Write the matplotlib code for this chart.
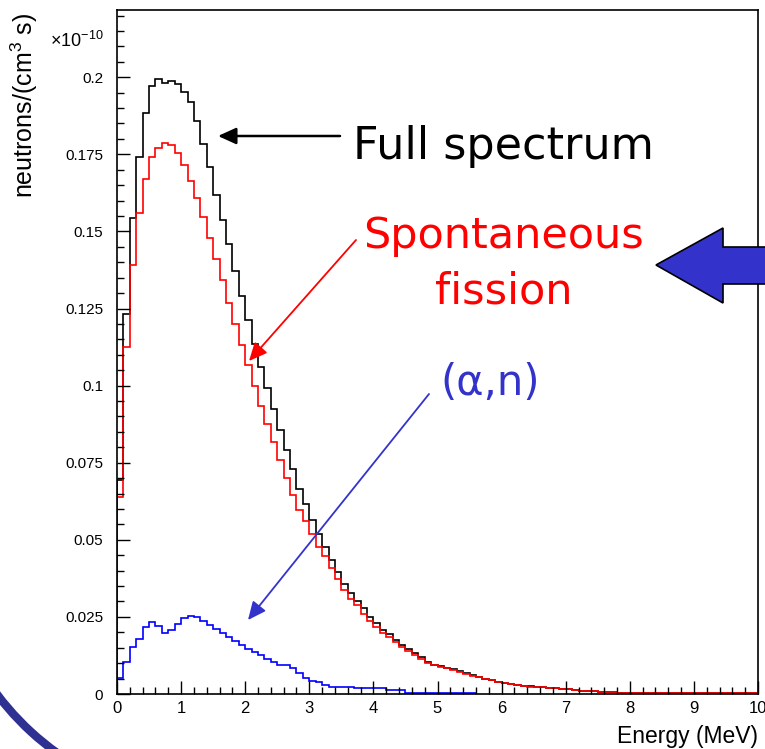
import numpy as np
import matplotlib
matplotlib.use("Agg")
import matplotlib.pyplot as plt
from matplotlib import patches

plt.rcParams['font.family'] = ['Liberation Sans', 'DejaVu Sans']
plt.rcParams['mathtext.fontset'] = 'custom'
plt.rcParams['mathtext.rm'] = 'Liberation Sans'
plt.rcParams['mathtext.default'] = 'regular'

# Widma neutronów (x 1e-10), 100 binów po 0.1 MeV
full = [0.0693, 0.1233, 0.1542, 0.1741, 0.1885, 0.1973, 0.1995, 0.1982, 0.1987, 0.1979,
        0.1953, 0.1919, 0.1858, 0.1783, 0.1708, 0.1619, 0.1536, 0.1458, 0.1373, 0.1292,
        0.1214, 0.1136, 0.1060, 0.0993, 0.0923, 0.0855, 0.0790, 0.0728, 0.0666, 0.0615,
        0.0564, 0.0518, 0.0478, 0.0434, 0.0396, 0.0357, 0.0327, 0.0303, 0.0280, 0.0251,
        0.0231, 0.0208, 0.0195, 0.0175, 0.0159, 0.0145, 0.0132, 0.0119, 0.0105, 0.0094,
        0.0092, 0.0085, 0.0080, 0.0074, 0.0068, 0.0061, 0.0056, 0.0050, 0.0045, 0.0040,
        0.0037, 0.0032, 0.0029, 0.0027, 0.0025, 0.0024, 0.0023, 0.0021, 0.0020, 0.0017,
        0.0015, 0.0013, 0.0011, 0.0010, 0.0009, 0.0008, 0.0007, 0.0006, 0.0004, 0.0003,
        0.0003, 0.0003, 0.0003, 0.0003, 0.0003, 0.0002, 0.0002, 0.0002, 0.0002, 0.0002,
        0.0002, 0.0002, 0.0002, 0.0002, 0.0002, 0.0002, 0.0002, 0.0002, 0.0002, 0.0002]

fission = [0.0638, 0.1126, 0.1391, 0.1561, 0.1671, 0.1742, 0.1772, 0.1787, 0.1780, 0.1753,
           0.1715, 0.1663, 0.1607, 0.1546, 0.1479, 0.1411, 0.1343, 0.1269, 0.1199, 0.1132,
           0.1068, 0.1000, 0.0935, 0.0877, 0.0817, 0.0760, 0.0700, 0.0645, 0.0597, 0.0560,
           0.0520, 0.0478, 0.0447, 0.0410, 0.0373, 0.0336, 0.0309, 0.0287, 0.0261, 0.0238,
           0.0216, 0.0197, 0.0184, 0.0168, 0.0152, 0.0139, 0.0126, 0.0113, 0.0102, 0.0093,
           0.0088, 0.0083, 0.0078, 0.0072, 0.0066, 0.0059, 0.0054, 0.0049, 0.0044, 0.0039,
           0.0035, 0.0031, 0.0028, 0.0026, 0.0024, 0.0023, 0.0022, 0.0020, 0.0018, 0.0016,
           0.0015, 0.0013, 0.0011, 0.0010, 0.0009, 0.0008, 0.0007, 0.0006, 0.0004, 0.0003,
           0.0003, 0.0003, 0.0003, 0.0003, 0.0003, 0.0002, 0.0002, 0.0002, 0.0002, 0.0002,
           0.0002, 0.0002, 0.0002, 0.0002, 0.0002, 0.0002, 0.0002, 0.0002, 0.0002, 0.0002]

alpha_n = [0.0053, 0.0105, 0.0151, 0.0179, 0.0216, 0.0235, 0.0220, 0.0197, 0.0208, 0.0227,
           0.0245, 0.0254, 0.0249, 0.0238, 0.0224, 0.0210, 0.0197, 0.0186, 0.0173, 0.0159,
           0.0147, 0.0136, 0.0125, 0.0115, 0.0105, 0.0094, 0.0094, 0.0083, 0.0069, 0.0053,
           0.0043, 0.0038, 0.0029, 0.0024, 0.0023, 0.0022, 0.0022, 0.0019, 0.0019, 0.0019,
           0.0019, 0.0019, 0.0013, 0.0013, 0.0013, 0.0004, 0.0004, 0.0004, 0.0004, 0.0004,
           0.0004, 0.0002, 0.0002, 0.0002, 0.0002, 0.0002]

bin_width = 0.1
y_ticks = [0, 0.025, 0.05, 0.075, 0.1, 0.125, 0.15, 0.175, 0.2]
y_tick_labels = ["0", "0.025", "0.05", "0.075", "0.1", "0.125", "0.15", "0.175", "0.2"]
x_ticks = list(range(0, 11))

W, H = 765, 749
fig = plt.figure(figsize=(W / 100, H / 100), dpi=100)
# osie w pikselach: lewo 117, prawo 758, dół 694, góra 10
ax = fig.add_axes([117 / W, (H - 694) / H, (758 - 117) / W, (694 - 10) / H])

edges_full = np.arange(len(full) + 1) * bin_width
edges_an = np.arange(len(alpha_n) + 1) * bin_width
ax.stairs(full, edges_full, baseline=0, color='black', linewidth=1.2)
ax.stairs(fission, edges_full, baseline=0, color='#ff0000', linewidth=1.2)
ax.stairs(alpha_n, edges_an, baseline=0, color='#0000ff', linewidth=1.2)

ax.set_xlim(0, 10)
ax.set_ylim(0, (694 - 10) / 3084)

ax.set_yticks(y_ticks)
ax.set_yticklabels(y_tick_labels)
ax.set_yticks(np.arange(0, 0.2201, 0.005), minor=True)
ax.set_xticks(x_ticks)
ax.set_xticks(np.arange(0, 10.01, 0.2), minor=True)

ax.tick_params(which='both', direction='in', top=False, right=False, width=1)
ax.tick_params(which='major', length=9.5)
ax.tick_params(which='minor', length=5)
ax.tick_params(axis='y', labelsize=11, pad=10)
ax.tick_params(axis='x', labelsize=12, pad=5)
for s in ax.spines.values():
    s.set_linewidth(1.2)

ax.set_xlabel("Energy (MeV)", fontsize=16.5, loc='right')
ax.xaxis.set_label_coords(1.0, -0.045)
ax.set_ylabel("neutrons/(cm$^3$ s)", fontsize=18, loc='top')
ax.yaxis.set_label_coords(-0.12, 0.996)

fig.text(50, H - 47, r"$\times10^{-10}$", fontsize=13, transform=None, ha='left', va='baseline')

# adnotacje (piksele od dołu)
def fp(x, y):
    return (x, H - y)

ax.annotate("", xy=fp(218, 136), xycoords='figure pixels', xytext=fp(340, 136),
            textcoords='figure pixels',
            arrowprops=dict(arrowstyle='-|>,head_length=0.55,head_width=0.25', color='black',
                            lw=1.8, mutation_scale=20, shrinkA=0, shrinkB=0))
ax.annotate("", xy=fp(249, 361), xycoords='figure pixels', xytext=fp(356, 240),
            textcoords='figure pixels',
            arrowprops=dict(arrowstyle='-|>,head_length=0.55,head_width=0.25', color='#ff0000',
                            lw=1.3, mutation_scale=20, shrinkA=0, shrinkB=0))
ax.annotate("", xy=fp(248, 620), xycoords='figure pixels', xytext=fp(429, 394),
            textcoords='figure pixels',
            arrowprops=dict(arrowstyle='-|>,head_length=0.55,head_width=0.25', color='#3333cc',
                            lw=1.3, mutation_scale=20, shrinkA=0, shrinkB=0))

fig.text(503, H - 147, "Full spectrum", transform=None, fontsize=32, color='black',
         ha='center', va='center', family='DejaVu Sans')
fig.text(504, H - 236, "Spontaneous", transform=None, fontsize=31, color='#ff0000',
         ha='center', va='center', family='DejaVu Sans')
fig.text(504, H - 292, "fission", transform=None, fontsize=31, color='#ff0000',
         ha='center', va='center', family='DejaVu Sans')
fig.text(490, H - 383, "(α,n)", transform=None, fontsize=30, color='#3333cc',
         ha='center', va='center', family='DejaVu Sans')

# duża niebieska strzałka z prawej
big = patches.Polygon([fp(656, 265), fp(723, 228), fp(723, 247), fp(780, 247),
                       fp(780, 284), fp(723, 284), fp(723, 303)], closed=True,
                      facecolor='#3333cc', edgecolor='black', linewidth=1.2,
                      transform=None, clip_on=False)
fig.add_artist(big)

# łuk dekoracyjny w lewym dolnym rogu
arc = patches.Arc((219, H - 527), 2 * 278, 2 * 278, theta1=200, theta2=255,
                  transform=None, color='#2e3192', linewidth=6)
fig.add_artist(arc)

fig.savefig("out.png", dpi=100)
